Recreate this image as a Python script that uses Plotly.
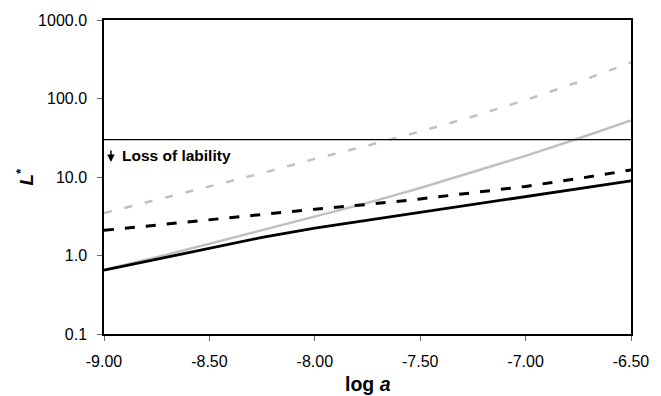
import plotly.graph_objects as go

log_a = [-9.00, -8.75, -8.50, -8.25, -8.00, -7.75, -7.50, -7.25, -7.00, -6.75, -6.50]
black_solid = [0.65, 0.89, 1.23, 1.70, 2.24, 2.82, 3.55, 4.47, 5.62, 7.08, 8.91]
black_dashed = [2.09, 2.45, 2.88, 3.39, 3.89, 4.47, 5.25, 6.31, 7.59, 9.55, 12.3]
gray_solid = [0.66, 0.95, 1.41, 2.09, 3.09, 4.68, 7.24, 11.5, 18.6, 30.9, 52.5]
gray_dashed = [3.47, 5.13, 7.59, 11.2, 17.0, 25.1, 38.0, 58.9, 95.5, 162, 288]
threshold = 30
x_ticks = [-9.0, -8.5, -8.0, -7.5, -7.0, -6.5]
x_ticklabels = ["-9.00", "-8.50", "-8.00", "-7.50", "-7.00", "-6.50"]
y_ticks = [0.1, 1, 10, 100, 1000]
y_ticklabels = ["0.1", "1.0", "10.0", "100.0", "1000.0"]

GRAY = "#c0c0c0"
FONT = "Liberation Sans, Arial, sans-serif"

fig = go.Figure()
fig.add_trace(go.Scatter(x=log_a, y=gray_dashed, mode="lines",
                         line=dict(color=GRAY, width=2.5, dash="8px,13px")))
fig.add_trace(go.Scatter(x=log_a, y=gray_solid, mode="lines",
                         line=dict(color=GRAY, width=2.5)))
fig.add_trace(go.Scatter(x=log_a, y=black_dashed, mode="lines",
                         line=dict(color="black", width=3, dash="10px,11px")))
fig.add_trace(go.Scatter(x=log_a, y=black_solid, mode="lines",
                         line=dict(color="black", width=2.8)))
fig.add_trace(go.Scatter(x=[x_ticks[0], x_ticks[-1]], y=[threshold, threshold], mode="lines",
                         line=dict(color="black", width=1.2)))

fig.update_layout(
    width=661, height=396,
    margin=dict(l=104, r=21, t=20, b=62),
    paper_bgcolor="white", plot_bgcolor="white",
    showlegend=False,
    font=dict(family=FONT, size=16, color="black"),
    xaxis=dict(range=[x_ticks[0], x_ticks[-1]], tickvals=x_ticks, ticktext=x_ticklabels,
               showgrid=False, zeroline=False, showline=True, linecolor="black", linewidth=1.5,
               mirror=True, ticks="outside", ticklen=5, tickcolor="#666", tickwidth=1,
               ticklabelstandoff=7),
    yaxis=dict(type="log", range=[-1, 3], tickvals=y_ticks, ticktext=y_ticklabels,
               showgrid=False, zeroline=False, showline=True, linecolor="black", linewidth=1.5,
               mirror=True, ticks="outside", ticklen=5, tickcolor="#666", tickwidth=1,
               ticklabelstandoff=7),
    annotations=[
        dict(text="<b>Loss of lability</b>", x=-8.925, y=1.277, xref="x", yref="y",
             xanchor="left", yanchor="middle", showarrow=False,
             font=dict(family=FONT, size=15.5, color="black")),
        dict(text="", x=-8.967, y=1.19, xref="x", yref="y", showarrow=True,
             ax=0, ay=-13, axref="pixel", ayref="pixel", arrowhead=2, arrowsize=1,
             arrowwidth=1.5, arrowcolor="black"),
        dict(text="<b><i>L</i><sup>*</sup></b>", x=-0.149, y=0.503, xref="paper", yref="paper",
             textangle=-90, showarrow=False, xanchor="center", yanchor="middle",
             font=dict(family=FONT, size=19, color="black")),
        dict(text="<b>log <i>a</i></b>", x=0.5, y=-0.159, xref="paper", yref="paper",
             showarrow=False, xanchor="center", yanchor="middle",
             font=dict(family=FONT, size=19.5, color="black")),
    ],
)

fig.write_html("out.html",
               config={"displayModeBar": False},
               post_script="document.body.style.margin='0';document.body.style.padding='0';")
